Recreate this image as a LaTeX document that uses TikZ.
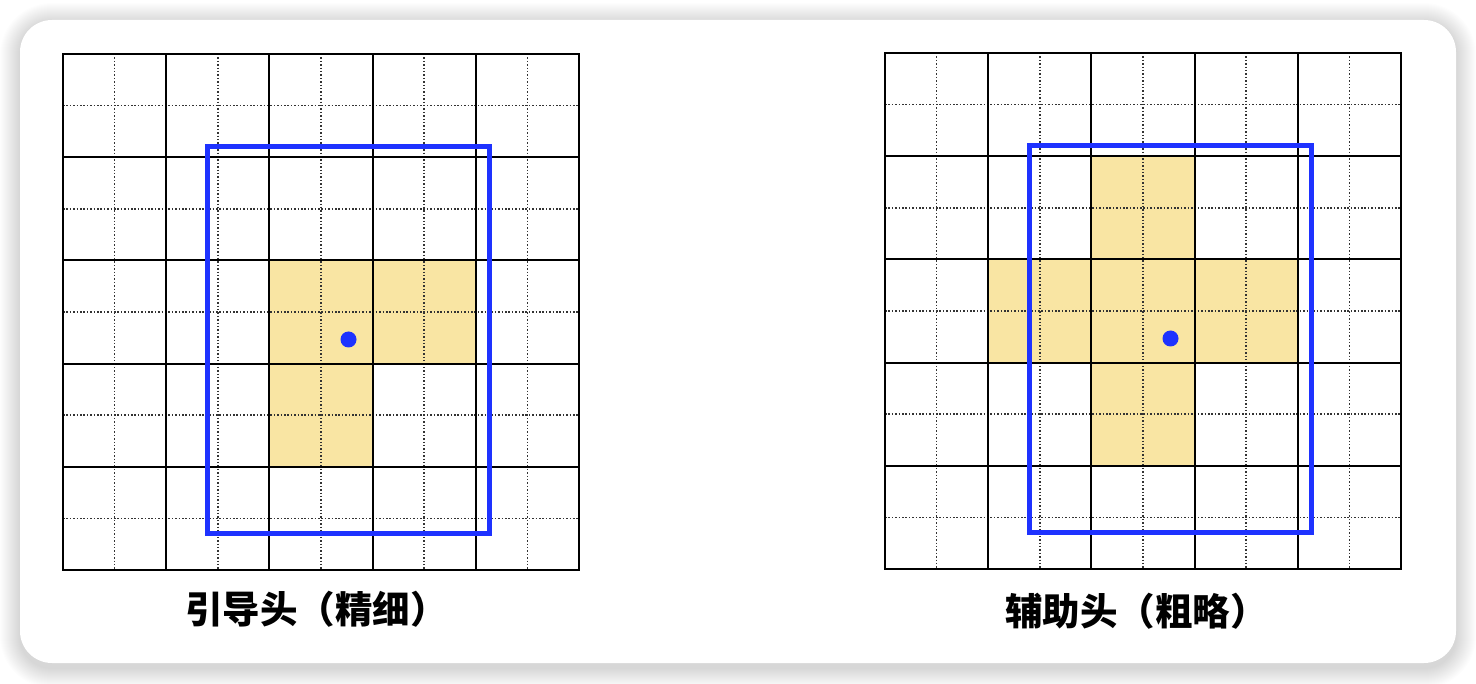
\documentclass[tikz,border=0pt]{standalone}
\usepackage{fontspec}
\newfontfamily\cjk{Noto Sans CJK SC}
\definecolor{blueroi}{RGB}{30,50,255}
\definecolor{cellyellow}{RGB}{249,229,163}
\newcommand\mygrid[3]{%
  \begin{scope}[shift={(#1,#2)}]
    #3
    \foreach \k in {51.6,154.8,258,361.2,464.4} {
      \draw[minor] (\k,0) -- (\k,516);
      \draw[minor] (0,\k) -- (516,\k);
    }
    \foreach \k in {0,103.2,206.4,309.6,412.8,516} {
      \draw[major] (\k,0) -- (\k,516);
      \draw[major] (0,\k) -- (516,\k);
    }
    \draw[roi] (144.5,92.5) rectangle (426.5,479.5);
    \fill[blueroi] (285.5,285.5) circle (8);
  \end{scope}}
\begin{document}
\begin{tikzpicture}[x=1pt,y=-1pt,
  major/.style={line width=2pt, black, line cap=rect},
  minor/.style={line width=1.5pt, black!80, dash pattern=on 1.5pt off 1.9pt},
  roi/.style={line width=4.5pt, blueroi},
  cellfill/.style={fill=cellyellow},
  lbl/.style={font=\cjk\bfseries\fontsize{37.5}{42}\selectfont, inner sep=0pt, anchor=west}]
\useasboundingbox (0,0) rectangle (1476,684);
\fill[white] (0,0) rectangle (1476,684);
\foreach \i in {1,...,20} {
  \fill[black, opacity=0.0075, rounded corners={32+\i}] ({20-\i},{23-\i}) rectangle ({1456+\i},{668+\i});
}
\fill[white, rounded corners=32] (20,20) rectangle (1456,663);
\mygrid{63}{54}{%
  \fill[cellfill] (206.4,206.4) rectangle (412.8,309.6);
  \fill[cellfill] (206.4,309.6) rectangle (309.6,412.8);
}
\mygrid{885}{53}{%
  \fill[cellfill] (103.2,206.4) rectangle (412.8,309.6);
  \fill[cellfill] (206.4,103.2) rectangle (309.6,412.8);
}
\node[lbl] (lefttitle) at (185,609) {引导头（精细）};
\node[lbl] (righttitle) at (1005,611) {辅助头（粗略）};
\end{tikzpicture}
\end{document}
